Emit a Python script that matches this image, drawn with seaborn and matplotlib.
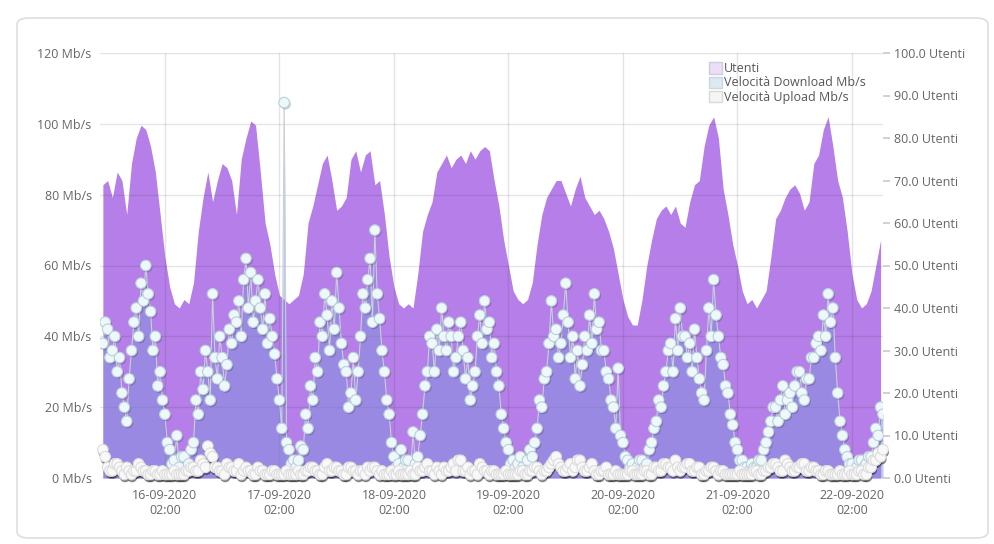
import numpy as np
import pandas as pd
import matplotlib
matplotlib.use("Agg")
import matplotlib.pyplot as plt
import matplotlib.dates as mdates
import matplotlib.patheffects as pe
from matplotlib.patches import Patch, FancyBboxPatch
import seaborn as sns

sns.set_theme(style="white")
plt.rcParams["font.family"] = ["Open Sans", "DejaVu Sans"]

# users: hourly, speeds: every 30 min, both starting 15-09-2020 13:00
start = "2020-09-15 13:00"

users = [
    69, 70, 66, 72, 70, 62, 74, 80, 83, 82, 78,
    72, 62, 52, 45, 41, 40, 42, 41, 46, 58, 66, 72, 65, 70, 74, 73, 70, 62, 75, 80, 84, 83, 72, 60,
    55, 48, 43, 42, 41, 42, 43, 48, 60, 64, 69, 74, 76, 70, 63, 64, 66, 75, 77, 72, 76, 77, 69, 70,
    62, 52, 45, 41, 40, 41, 40, 48, 58, 62, 65, 72, 74, 76, 73, 75, 76, 74, 77, 75, 77, 78, 77, 70,
    64, 56, 50, 44, 42, 41, 42, 46, 55, 62, 66, 68, 70, 70, 67, 64, 68, 71, 66, 64, 62, 63, 61, 58,
    54, 48, 42, 38, 36, 36, 42, 50, 56, 61, 63, 64, 62, 64, 60, 59, 65, 69, 70, 78, 83, 85, 80, 68,
    62, 55, 50, 44, 41, 42, 40, 42, 44, 52, 61, 63, 66, 68, 69, 67, 63, 65, 74, 76, 82, 85, 78, 70,
    66, 58, 48, 42, 40, 41, 44, 50, 56,
]

download = [
    # 15-09 13:00 - 23:30
    38, 44, 42, 34, 36, 40, 30, 34, 24, 20, 16, 28, 36, 44, 48, 40, 55, 50, 60, 52, 47, 36,
    # 16-09
    40, 26, 30, 22, 18, 10, 8, 4, 5, 12, 3, 6, 6, 2, 4, 8, 10, 22, 18, 30, 25, 36, 30, 22,
    52, 34, 28, 40, 34, 26, 32, 42, 38, 46, 44, 50, 40, 56, 62, 48, 58, 44, 50, 56, 48, 42, 52, 38,
    # 17-09
    45, 40, 35, 28, 22, 14, 106, 10, 8, 4, 5, 3, 5, 9, 8, 18, 14, 26, 22, 34, 30, 44, 40, 52,
    46, 36, 50, 42, 58, 48, 38, 32, 30, 20, 24, 34, 22, 30, 40, 52, 48, 56, 62, 44, 70, 52, 45, 36,
    # 18-09
    30, 22, 18, 10, 6, 3, 4, 8, 3, 5, 5, 2, 13, 4, 6, 12, 18, 26, 30, 40, 38, 30, 42, 36,
    48, 40, 36, 44, 40, 30, 34, 40, 44, 36, 28, 34, 22, 26, 30, 40, 46, 38, 50, 42, 44, 34, 38, 30,
    # 19-09
    26, 18, 14, 10, 8, 4, 5, 3, 4, 6, 3, 2, 5, 8, 6, 10, 14, 22, 20, 28, 30, 38, 50, 40,
    42, 34, 38, 46, 55, 44, 34, 40, 28, 36, 26, 32, 40, 36, 46, 38, 52, 42, 44, 36, 36, 30, 28, 22,
    # 20-09
    20, 14, 31, 12, 10, 6, 5, 3, 4, 2, 3, 5, 5, 3, 4, 8, 10, 14, 16, 22, 20, 26, 30, 36,
    38, 30, 45, 36, 48, 40, 40, 34, 38, 30, 42, 34, 28, 24, 22, 36, 48, 40, 56, 46, 40, 34, 32, 26,
    # 21-09
    24, 18, 15, 10, 8, 5, 5, 3, 3, 2, 4, 3, 3, 5, 5, 8, 10, 13, 16, 20, 20, 16, 22, 26,
    18, 22, 24, 20, 26, 30, 30, 24, 22, 28, 28, 34, 34, 38, 40, 36, 46, 40, 52, 44, 48, 34, 24, 16,
    # 22-09 00:00 - 08:30
    12, 8, 6, 4, 4, 2, 3, 5, 5, 3, 4, 6, 6, 10, 14, 12, 20, 18,
]

upload = [
    8, 6, 3, 2, 2, 4, 4, 3, 2, 1, 3, 2, 1, 2, 2, 4, 3, 2, 2, 1, 1, 2,
    2, 1, 1, 2, 1, 1, 1, 1, 2, 1, 1, 1, 1, 2, 2, 3, 3, 2, 2, 5, 4, 3, 9, 7,
    6, 3, 3, 2, 2, 1, 4, 3, 3, 2, 2, 4, 1, 2, 3, 2, 2, 1, 1, 3, 2, 2, 1, 1,
    1, 2, 2, 1, 1, 1, 1, 2, 1, 1, 1, 1, 2, 1, 1, 2, 2, 3, 3, 2, 2, 1, 1, 3,
    4, 2, 2, 3, 3, 2, 2, 1, 1, 3, 3, 2, 2, 1, 2, 2, 1, 3, 2, 3, 3, 2, 1, 2,
    1, 1, 1, 2, 1, 1, 2, 1, 1, 1, 1, 2, 1, 1, 3, 2, 2, 3, 4, 2, 2, 1, 3, 2,
    1, 3, 2, 2, 3, 4, 2, 5, 5, 2, 2, 3, 1, 2, 2, 1, 4, 3, 2, 2, 1, 2, 2, 1,
    1, 1, 1, 2, 1, 1, 1, 1, 1, 2, 2, 1, 1, 2, 2, 3, 3, 2, 1, 2, 2, 3, 4, 5,
    6, 4, 3, 2, 2, 3, 4, 2, 3, 5, 5, 3, 2, 2, 3, 4, 2, 1, 1, 2, 2, 3, 1, 1,
    1, 2, 1, 1, 1, 1, 1, 2, 2, 1, 1, 1, 1, 2, 2, 1, 1, 3, 3, 2, 2, 4, 4, 3,
    3, 2, 5, 3, 2, 3, 3, 4, 4, 2, 2, 3, 3, 1, 1, 2, 2, 3, 3, 2, 1, 2, 2, 1,
    1, 1, 1, 1, 1, 2, 1, 1, 1, 1, 1, 2, 2, 1, 1, 2, 2, 3, 3, 4, 4, 3, 2, 2,
    5, 4, 3, 2, 2, 3, 3, 4, 4, 2, 2, 3, 3, 2, 2, 1, 1, 2, 2, 1, 1, 1, 1, 2,
    1, 1, 1, 2, 1, 1, 1, 2, 2, 1, 1, 3, 3, 5, 5, 7, 6, 8,
]

speed_ticks = [0, 20, 40, 60, 80, 100, 120]
user_ticks = [0, 10, 20, 30, 40, 50, 60, 70, 80, 90, 100]
legend_labels = ["Utenti", "Velocità Download Mb/s", "Velocità Upload Mb/s"]

df_users = pd.DataFrame({
    "time": pd.date_range(start, periods=len(users), freq="h"),
    "utenti": users,
})
df_speed = pd.DataFrame({
    "time": pd.date_range(start, periods=len(download), freq="30min"),
    "download": download,
    "upload": upload,
})

text_color = "#666666"

fig = plt.figure(figsize=(9.94, 5.44), dpi=100)
fig.patch.set_facecolor("white")

# card behind the chart
card = FancyBboxPatch(
    (17 / 994, 1 - 538 / 544), (988 - 17) / 994, (538 - 18) / 544,
    boxstyle="round,pad=0,rounding_size=0.012",
    transform=fig.transFigure, facecolor="white", edgecolor="#dedede",
    linewidth=1.2, zorder=-10,
)
fig.patches.append(card)

ax = fig.add_axes([100 / 994, 1 - 478 / 544, 783 / 994, 425 / 544])
ax2 = ax.twinx()
ax.set_zorder(ax2.get_zorder() + 1)
ax.patch.set_visible(False)

# users area on the right axis
ax2.fill_between(df_users["time"], df_users["utenti"], color="#b57ee8", linewidth=0)

# download area, thin line and points
ax.fill_between(df_speed["time"], df_speed["download"], color="#7f95dd", alpha=0.5,
                linewidth=0, zorder=2)
sns.lineplot(data=df_speed, x="time", y="download", ax=ax, color="#c9d0da",
             linewidth=0.8, zorder=3)
sns.scatterplot(data=df_speed, x="time", y="download", ax=ax, s=58,
                color="#eef8fa", edgecolor="#b9d0da", linewidth=0.8, zorder=4)
ax.collections[-1].set_path_effects(
    [pe.SimplePatchShadow(offset=(1, -1.2), shadow_rgbFace="k", alpha=0.22), pe.Normal()])

# upload points near zero
sns.scatterplot(data=df_speed, x="time", y="upload", ax=ax, s=58,
                color="#f8f8f8", edgecolor="#dcdcdc", linewidth=0.8, zorder=5)
up = ax.collections[-1]
up.set_clip_on(False)
up.set_path_effects(
    [pe.SimplePatchShadow(offset=(0.5, -1.8), shadow_rgbFace="#222222", alpha=0.55), pe.Normal()])

ax.set_xlim(pd.Timestamp("2020-09-15 12:24"), pd.Timestamp("2020-09-22 08:30"))
ax.set_ylim(0, 120)
ax2.set_ylim(0, 100)

ax.set_yticks(speed_ticks)
ax.set_yticklabels([f"{v} Mb/s" for v in speed_ticks])
ax2.set_yticks(user_ticks)
ax2.set_yticklabels([f"{v:.1f} Utenti" for v in user_ticks])

ax.xaxis.set_major_locator(mdates.HourLocator(byhour=[2]))
ax.xaxis.set_major_formatter(mdates.DateFormatter("%d-%m-%Y\n%H:%M"))

ax.grid(True, color="#333333", alpha=0.13, linewidth=1.0)
ax2.grid(False)

ax.tick_params(axis="both", labelsize=9, colors=text_color, length=0, pad=6)
ax.tick_params(axis="x", pad=8)
ax2.tick_params(axis="y", labelsize=9, colors=text_color, length=5,
                color="#cccccc", pad=3)
for a in (ax, ax2):
    for s in a.spines.values():
        s.set_visible(False)
ax.set_xlabel("")
ax.set_ylabel("")
ax2.set_ylabel("")

handles = [
    Patch(facecolor="#eadff7", edgecolor="#d4cade"),
    Patch(facecolor="#dde8f1", edgecolor="#ccd6df"),
    Patch(facecolor="#f5f5f5", edgecolor="#d8d8d8"),
]
leg = ax.legend(handles, legend_labels, loc="upper left",
                bbox_to_anchor=(0.772, 0.99), frameon=False, fontsize=9,
                handlelength=1.0, handleheight=1.0, handletextpad=0.15,
                labelspacing=0.1, borderaxespad=0)
for t in leg.get_texts():
    t.set_color("#555555")

plt.savefig("out.png", dpi=100)
plt.close()
